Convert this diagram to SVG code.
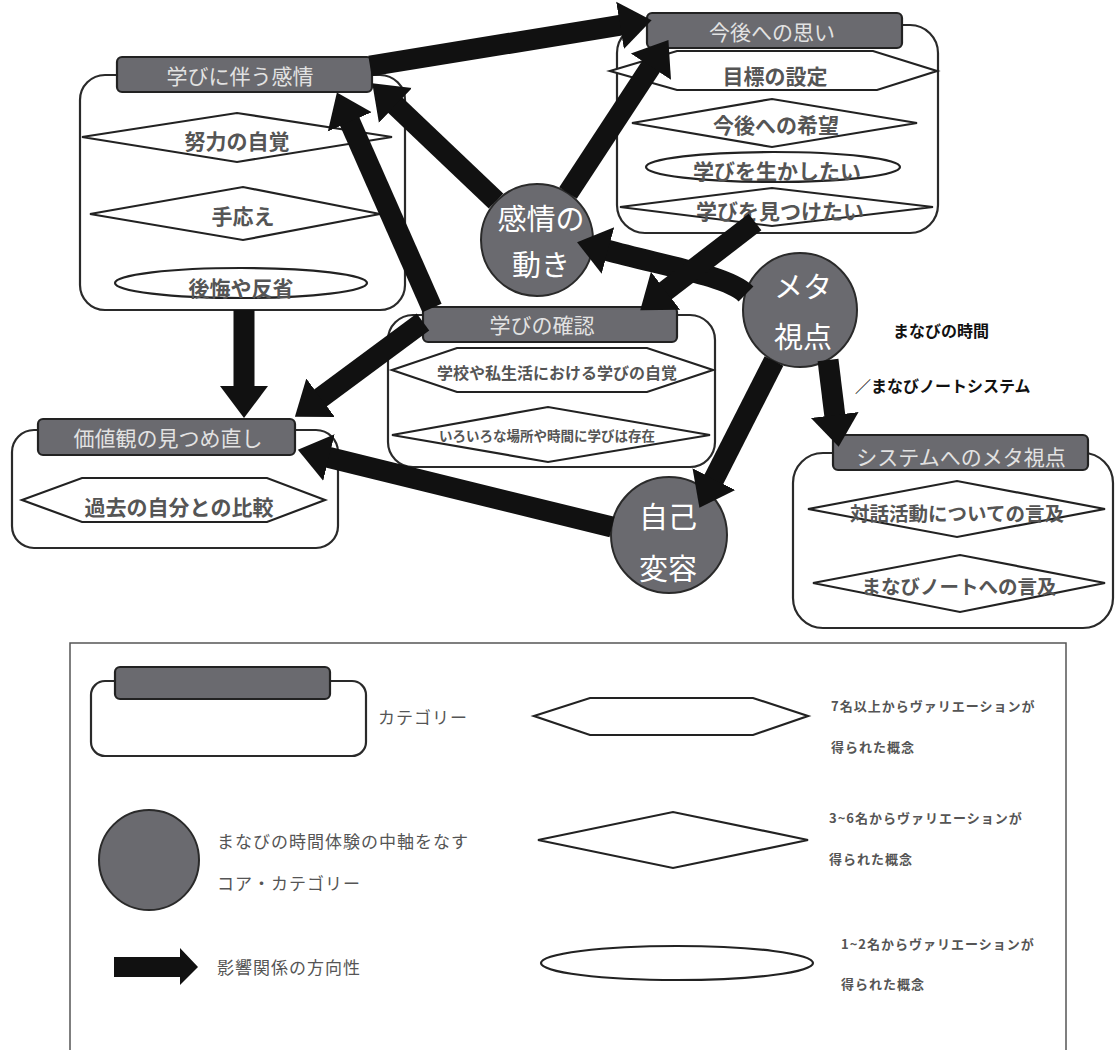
<svg xmlns="http://www.w3.org/2000/svg" width="1117" height="1050" viewBox="0 0 1117 1050">
<defs>
<style>
.box{fill:#fff;stroke:#2a2a2a;stroke-width:2.2}
.hdr{fill:#6a6a6f;stroke:#222;stroke-width:2.2}
.cpt{fill:#fff;stroke:#222;stroke-width:2.2}
.core{fill:#6a6a6f;stroke:#2a2a2a;stroke-width:2}
.arr{fill:none;stroke:#111;stroke-width:21;marker-end:url(#ah)}
text{font-family:"Noto Sans CJK JP","Noto Sans",sans-serif;text-anchor:middle;dominant-baseline:central}
.ht{fill:#e2e2e2;font-size:21px}
.ct{fill:#555;font-size:21px;font-weight:bold}
.cc{fill:#fff;font-size:29px}
.note{fill:#111;font-size:16px;font-weight:bold;text-anchor:start}
.lg{fill:#555;font-size:17px;text-anchor:start;letter-spacing:1px}
.ls{fill:#555;font-size:13px;font-weight:bold;text-anchor:start;letter-spacing:1px}
</style>
<marker id="ah" markerUnits="userSpaceOnUse" viewBox="-2 -26 34 52" markerWidth="34" markerHeight="52" refX="0" refY="0" orient="auto">
<path d="M-2,-24 L30,0 L-2,24 Z" fill="#111"/>
</marker>
</defs>
<rect width="1117" height="1050" fill="#fff"/>

<g id="node-manabi-kanjo">
<rect class="box" x="80" y="75" width="325" height="235" rx="25"/>
<rect class="hdr" x="117" y="57" width="255" height="35" rx="5"/>
<text class="ht" x="240" y="75">学びに伴う感情</text>
<polygon class="cpt" points="82,137 237,113 392,137 237,162"/>
<text class="ct" x="237" y="140">努力の自覚</text>
<polygon class="cpt" points="90,214 243,187 380,214 243,240"/>
<text class="ct" x="243" y="215">手応え</text>
<ellipse class="cpt" cx="241" cy="283" rx="126" ry="15"/>
<text class="ct" x="241" y="287">後悔や反省</text>
</g>

<g id="node-kongo">
<rect class="box" x="617" y="25" width="321" height="208" rx="28"/>
<polygon class="cpt" points="610,71 677,51 873,51 937,71 877,90 677,90"/>
<rect class="hdr" x="647" y="13" width="255" height="35" rx="5"/>
<text class="ht" x="772" y="31">今後への思い</text>
<text class="ct" x="775" y="75">目標の設定</text>
<polygon class="cpt" points="632,123 772,99 917,123 772,147"/>
<text class="ct" x="776" y="124">今後への希望</text>
<ellipse class="cpt" cx="773" cy="167" rx="127" ry="15"/>
<text class="ct" x="777" y="170">学びを生かしたい</text>
<polygon class="cpt" points="620,207 772,188 933,207 772,226"/>
<text class="ct" x="780" y="210">学びを見つけたい</text>
</g>

<g id="node-kakunin">
<rect class="box" x="388" y="315" width="327" height="152" rx="25"/>
<polygon class="cpt" points="392,370 457,348 647,348 713,370 647,392 457,392"/>
<rect class="hdr" x="423" y="307" width="254" height="35" rx="5"/>
<text class="ht" x="542" y="324">学びの確認</text>
<text class="ct" x="557" y="372" style="font-size:16px">学校や私生活における学びの自覚</text>
<polygon class="cpt" points="392,435 548,407 710,435 548,462"/>
<text class="ct" x="547" y="435" style="font-size:13.5px">いろいろな場所や時間に学びは存在</text>
</g>

<g id="node-kachikan">
<rect class="box" x="12" y="430" width="326" height="118" rx="22"/>
<rect class="hdr" x="38" y="419" width="257" height="36" rx="5"/>
<text class="ht" x="168" y="437">価値観の見つめ直し</text>
<polygon class="cpt" points="22,500 82,478 267,478 325,500 267,522 82,522"/>
<text class="ct" x="179" y="506">過去の自分との比較</text>
</g>

<g id="node-system">
<rect class="box" x="793" y="453" width="320" height="175" rx="30"/>
<rect class="hdr" x="833" y="435" width="255" height="35" rx="5"/>
<text class="ht" x="961" y="456">システムへのメタ視点</text>
<polygon class="cpt" points="808,509 957,481 1105,509 957,537"/>
<text class="ct" x="957" y="512" style="font-size:19.5px">対話活動についての言及</text>
<polygon class="cpt" points="813,583 960,555 1105,583 960,612"/>
<text class="ct" x="959" y="585" style="font-size:19.5px">まなびノートへの言及</text>
</g>

<g id="core-kanjo">
<circle class="core" cx="537" cy="240" r="56"/>
<text class="cc" x="541" y="217">感情の</text>
<text class="cc" x="541" y="263">動き</text>
</g>

<g id="core-meta">
<circle class="core" cx="800" cy="310" r="57"/>
<text class="cc" x="803" y="285">メタ</text>
<text class="cc" x="803" y="335">視点</text>
</g>

<g id="core-jiko">
<circle class="core" cx="669" cy="535" r="58"/>
<text class="cc" x="668" y="515">自己</text>
<text class="cc" x="668" y="567">変容</text>
</g>

<g id="connectors">
<path class="arr" d="M370,66 L622,25"/>
<path class="arr" d="M496,201 L394,104"/>
<path class="arr" d="M432,308 L349,120"/>
<path class="arr" d="M568,193 L652,65"/>
<path class="arr" d="M746,294 C728,276 665,266 606,250"/>
<path class="arr" d="M755,222 L664,292"/>
<path class="arr" d="M244,310 L244,388"/>
<path class="arr" d="M423,322 L319,399"/>
<path class="arr" d="M612,527 L327,457"/>
<path class="arr" d="M774,361 L713,481"/>
<path class="arr" d="M828,360 L835,417"/>
</g>

<g id="notes">
<text class="note" x="893" y="330">まなびの時間</text>
<text class="note" x="855" y="385">／まなびノートシステム</text>
</g>

<g id="legend">
<rect x="70" y="643" width="996" height="430" fill="none" stroke="#555" stroke-width="1.5"/>
<rect class="box" x="91" y="681" width="275" height="75" rx="14"/>
<rect class="hdr" x="115" y="667" width="215" height="32" rx="5"/>
<text class="lg" x="378" y="716">カテゴリー</text>
<circle class="core" cx="149" cy="860" r="50"/>
<text class="lg" x="217" y="840">まなびの時間体験の中軸をなす</text>
<text class="lg" x="217" y="882">コア・カテゴリー</text>
<polygon points="114,957 180,957 180,948 198,967 180,985 180,977 114,977" fill="#111"/>
<text class="lg" x="217" y="966">影響関係の方向性</text>
<polygon class="cpt" points="534,716 590,698 753,698 808,716 753,735 590,735"/>
<text class="ls" x="831" y="705">7名以上からヴァリエーションが</text>
<text class="ls" x="831" y="746">得られた概念</text>
<polygon class="cpt" points="538,840 673,812 808,840 673,868"/>
<text class="ls" x="829" y="817">3~6名からヴァリエーションが</text>
<text class="ls" x="829" y="858">得られた概念</text>
<ellipse class="cpt" cx="677" cy="963" rx="136" ry="17"/>
<text class="ls" x="841" y="943">1~2名からヴァリエーションが</text>
<text class="ls" x="841" y="983">得られた概念</text>
</g>
</svg>
